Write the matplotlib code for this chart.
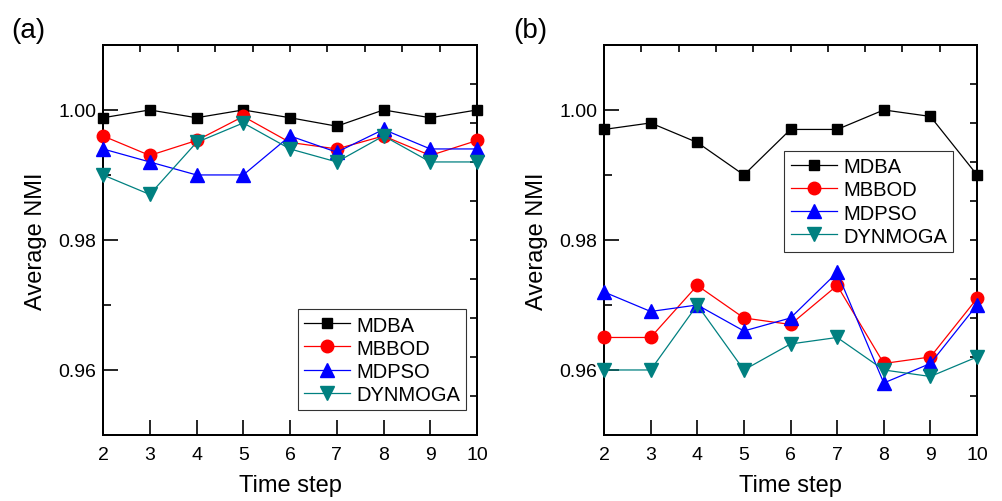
import numpy as np
import matplotlib
matplotlib.use("Agg")
import matplotlib.pyplot as plt

plt.rcParams['font.family'] = ['Liberation Sans', 'DejaVu Sans']

steps = [2, 3, 4, 5, 6, 7, 8, 9, 10]

# panel (a)
a_mdba = [0.9988, 1.000, 0.9988, 1.000, 0.9988, 0.9975, 1.000, 0.9988, 1.000]
a_mbbod = [0.996, 0.993, 0.9953, 0.999, 0.995, 0.994, 0.996, 0.993, 0.9953]
a_mdpso = [0.994, 0.992, 0.990, 0.990, 0.996, 0.9935, 0.997, 0.994, 0.994]
a_dynmoga = [0.990, 0.987, 0.995, 0.998, 0.994, 0.992, 0.996, 0.992, 0.992]

# panel (b)
b_mdba = [0.997, 0.998, 0.995, 0.990, 0.997, 0.997, 1.000, 0.999, 0.990]
b_mbbod = [0.965, 0.965, 0.973, 0.968, 0.967, 0.973, 0.961, 0.962, 0.971]
b_mdpso = [0.972, 0.969, 0.970, 0.966, 0.968, 0.975, 0.958, 0.961, 0.970]
b_dynmoga = [0.960, 0.960, 0.970, 0.960, 0.964, 0.965, 0.960, 0.959, 0.962]

names = ["MDBA", "MBBOD", "MDPSO", "DYNMOGA"]
styles = [("black", "s", 7.5), ("#ff0000", "o", 9), ("#0000ff", "^", 9.5), ("#008080", "v", 9.5)]


def draw(ax, series, legend_loc):
    for y, name, (c, m, ms) in zip(series, names, styles):
        ax.plot(steps, y, color=c, marker=m, ms=ms, lw=0.9, label=name, clip_on=False, zorder=3)
    ax.set_xlim(2, 10)
    ax.set_ylim(0.95, 1.01)
    ax.set_xticks(steps)
    ax.set_yticks([0.96, 0.98, 1.00])
    ax.set_yticks([0.97, 0.99], minor=True)
    ax.set_yticklabels(["0.96", "0.98", "1.00"])
    ax.tick_params(which='major', direction='in', length=11, width=1.2, labelsize=14, pad=5)
    ax.tick_params(which='minor', direction='in', length=6, width=1.2)
    ax.tick_params(axis='x', pad=8)
    for s in ax.spines.values():
        s.set_linewidth(1.4)
    ax.set_xlabel("Time step", fontsize=17, labelpad=8)
    ax.set_ylabel("Average NMI", fontsize=17, labelpad=8)

    # top / right axes with their own ticks
    tx = ax.twiny()
    tx.set_xlim(2, 10)
    tx.set_xticks(np.linspace(2, 10, 11)[1:-1])
    tx.set_xticklabels([])
    tx.tick_params(direction='in', length=5, width=1.2)
    ty = ax.twinx()
    ty.set_ylim(0.95, 1.01)
    ty.set_yticks(np.linspace(0.95, 1.01, 11)[1:-1])
    ty.set_yticklabels([])
    ty.tick_params(direction='in', length=5, width=1.2)
    for t in (tx, ty):
        for s in t.spines.values():
            s.set_linewidth(1.4)
        t.set_zorder(0)
    ax.set_zorder(1)
    ax.patch.set_visible(False)

    leg = ax.legend(loc=legend_loc, fontsize=14.5, frameon=True, fancybox=False,
                    edgecolor='black', handlelength=2.3, handletextpad=0.3,
                    borderpad=0.3, labelspacing=0.2, borderaxespad=0.0)
    leg.get_frame().set_linewidth(0.8)
    return leg


fig = plt.figure(figsize=(10.02, 5.02), dpi=100)
ax1 = fig.add_axes([0.1028, 0.1315, 0.3733, 0.777])
ax2 = fig.add_axes([0.6028, 0.1315, 0.3723, 0.777])

leg1 = draw(ax1, [a_mdba, a_mbbod, a_mdpso, a_dynmoga], 'lower right')
leg1.set_bbox_to_anchor((0.97, 0.065), transform=ax1.transAxes)
leg2 = draw(ax2, [b_mdba, b_mbbod, b_mdpso, b_dynmoga], 'upper right')
leg2.set_bbox_to_anchor((0.935, 0.727), transform=ax2.transAxes)

fig.text(0.011, 0.925, "(a)", fontsize=20)
fig.text(0.512, 0.925, "(b)", fontsize=20)

fig.savefig("out.png", dpi=100)
